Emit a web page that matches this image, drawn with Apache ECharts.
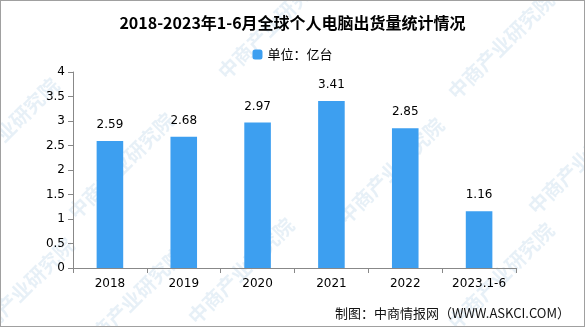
<!DOCTYPE html>
<html><head><meta charset="utf-8">
<script src="https://cdn.jsdelivr.net/npm/echarts@6/dist/echarts.min.js"></script>
<style>html,body{margin:0;padding:0;background:#fff}#c{width:585px;height:327px;box-sizing:border-box;border:1px solid #a0a0a0}</style>
</head><body><div id="c"></div>
<script>
var categories = ['2018','2019','2020','2021','2022','2023.1-6'];
var values = [2.59, 2.68, 2.97, 3.41, 2.85, 1.16];
var yTicks = {min: 0, max: 4, interval: 0.5};
var seriesName = '单位：亿台';
var titleText = '2018-2023年1-6月全球个人电脑出货量统计情况';
var footerText = '制图：中商情报网（WWW.ASKCI.COM）';
var watermark = '中商产业研究院';

var chart = echarts.init(document.getElementById('c'));
var wm = [];
var wmPos = [[120,165],[5,130],[270,25],[240,270],[390,170],[500,45],[500,275],[580,160],[130,300],[20,290]];
wmPos.forEach(function(p){
  wm.push({type:'text', x:p[0], y:p[1], rotation:Math.PI/4, z:-1,
    style:{text:watermark, fill:'rgba(120,170,210,0.18)', font:'bold 20px "Noto Sans CJK SC"', align:'center', verticalAlign:'middle'}});
});
wm.push({type:'text', right:14, bottom:6, style:{text:footerText, fill:'#111', font:'13px "Noto Sans CJK SC"'}});
chart.setOption({
  animation:false,
  title:{text:titleText, left:'center', top:9, textStyle:{fontFamily:'"Noto Sans CJK SC"', fontWeight:'bold', fontSize:16, color:'#000'}},
  legend:{top:42, left:'center', itemWidth:10, itemHeight:10, itemGap:4, textStyle:{fontFamily:'"Noto Sans CJK SC"', fontSize:13, color:'#000'}, data:[seriesName]},
  grid:{left:72, right:68, top:71, bottom:58},
  xAxis:{type:'category', data:categories, axisLine:{lineStyle:{color:'#888'}}, axisTick:{show:true, length:5, lineStyle:{color:'#888'}},
    axisLabel:{color:'#000', fontSize:12, fontFamily:'"DejaVu Sans"', margin:10}},
  yAxis:{type:'value', min:yTicks.min, max:yTicks.max, interval:yTicks.interval, splitLine:{show:false},
    axisLine:{show:true, lineStyle:{color:'#888'}}, axisTick:{show:true, length:5, lineStyle:{color:'#888'}},
    axisLabel:{color:'#000', fontSize:12, fontFamily:'"DejaVu Sans"', margin:8}},
  series:[{name:seriesName, type:'bar', data:values, barWidth:'36%', itemStyle:{color:'#3d9ff0'},
    label:{show:true, position:'top', distance:10, color:'#000', fontSize:12, fontFamily:'"DejaVu Sans"', formatter:function(p){return p.value.toFixed(2);}}}],
  graphic:wm
});
</script></body></html>
